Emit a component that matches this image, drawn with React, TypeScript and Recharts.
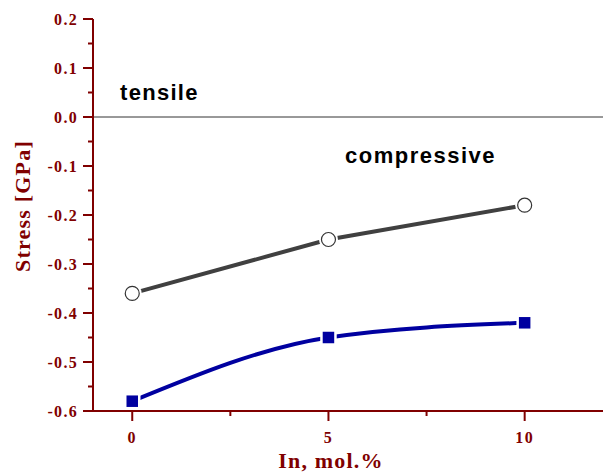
import { ComposedChart, Line, XAxis, YAxis, ReferenceLine, Label } from "recharts";

const inContent = [0, 5, 10];
const stressOpen = [-0.36, -0.25, -0.18];
const stressFilled = [-0.58, -0.45, -0.42];
const xTicks = [0, 2.5, 5, 7.5, 10];
const xMajor = [0, 5, 10];
const yTicks = [0.2, 0.15, 0.1, 0.05, 0, -0.05, -0.1, -0.15, -0.2, -0.25, -0.3, -0.35, -0.4, -0.45, -0.5, -0.55, -0.6];
const yMajor = [0.2, 0.1, 0, -0.1, -0.2, -0.3, -0.4, -0.5, -0.6];

const data = inContent.map((x, i) => ({ x, open: stressOpen[i], filled: stressFilled[i] }));

const RED = "#800000";
const serif = "'Liberation Serif', 'Times New Roman', serif";
const sans = "'Liberation Sans', Arial, sans-serif";

const YTick = (props: any) => {
  const { x, y, payload } = props;
  const major = yMajor.some((m) => Math.abs(m - payload.value) < 1e-6);
  return (
    <g>
      <line x1={x - (major ? 10 : 5)} x2={x} y1={y} y2={y} stroke={RED} strokeWidth={2} />
      {major && (
        <text x={x - 15} y={y + 6} textAnchor="end" fill={RED} fontFamily={serif} fontWeight="bold" fontSize={16} letterSpacing={1.3}>
          {payload.value.toFixed(1)}
        </text>
      )}
    </g>
  );
};

const XTick = (props: any) => {
  const { x, y, payload } = props;
  const major = xMajor.includes(payload.value);
  return (
    <g>
      <line x1={x} x2={x} y1={y} y2={y + (major ? 10 : 5)} stroke={RED} strokeWidth={2} />
      {major && (
        <text x={x} y={y + 32} textAnchor="middle" fill={RED} fontFamily={serif} fontWeight="bold" fontSize={16} letterSpacing={1.3}>
          {payload.value}
        </text>
      )}
    </g>
  );
};

const CircleDot = (props: any) => {
  const { cx, cy } = props;
  return (
    <g>
      <circle cx={cx} cy={cy} r={9.5} fill="#fff" />
      <circle cx={cx} cy={cy} r={7} fill="#fff" stroke="#333" strokeWidth={1.2} />
    </g>
  );
};

const SquareDot = (props: any) => {
  const { cx, cy } = props;
  return <rect x={cx - 7} y={cy - 7} width={14} height={14} fill="#0000A0" stroke="#fff" strokeWidth={2.5} />;
};

const XLabel = () => (
  <text x={323} y={460} textAnchor="middle" fill={RED} fontFamily={serif} fontWeight="bold" fontSize={22} letterSpacing={1.2}>
    In, mol.%
  </text>
);

const YLabel = () => (
  <text x={22} y={198} transform="rotate(-90 22 198)" textAnchor="middle" fill={RED} fontFamily={serif} fontWeight="bold" fontSize={22} letterSpacing={1.2}>
    Stress [GPa]
  </text>
);

export default function App() {
  return (
    <div style={{ position: "relative", width: 603, height: 465 }}>
      <ComposedChart width={603} height={465} data={data} margin={{ top: 11, right: 0, left: 0, bottom: 0 }}>
        <XAxis
          dataKey="x"
          type="number"
          domain={[-1, 12.2]}
          ticks={xTicks}
          interval={0}
          tick={<XTick />}
          tickLine={false}
          tickSize={0}
          tickMargin={0}
          axisLine={{ stroke: RED, strokeWidth: 2 }}
          height={62}
          allowDataOverflow
        >
          <Label content={<XLabel />} />
        </XAxis>
        <YAxis
          type="number"
          domain={[-0.6, 0.2]}
          ticks={yTicks}
          interval={0}
          tick={<YTick />}
          tickLine={false}
          tickSize={0}
          tickMargin={0}
          axisLine={{ stroke: RED, strokeWidth: 2 }}
          width={85}
          allowDataOverflow
        >
          <Label content={<YLabel />} />
        </YAxis>
        <ReferenceLine y={0} stroke="#333" strokeWidth={1} />
        <Line dataKey="open" type="linear" stroke="#404040" strokeWidth={4} dot={<CircleDot />} activeDot={false} isAnimationActive={false} />
        <Line dataKey="filled" type="monotone" stroke="#0000A0" strokeWidth={4} dot={<SquareDot />} activeDot={false} isAnimationActive={false} />
      </ComposedChart>
      <div style={{ position: "absolute", left: 112, top: 74, lineHeight: 1, fontFamily: sans, fontWeight: "bold", fontSize: 22, letterSpacing: 1.3 }}>tensile</div>
      <div style={{ position: "absolute", left: 337, top: 137, lineHeight: 1, fontFamily: sans, fontWeight: "bold", fontSize: 22, letterSpacing: 1.5 }}>compressive</div>
    </div>
  );
}
